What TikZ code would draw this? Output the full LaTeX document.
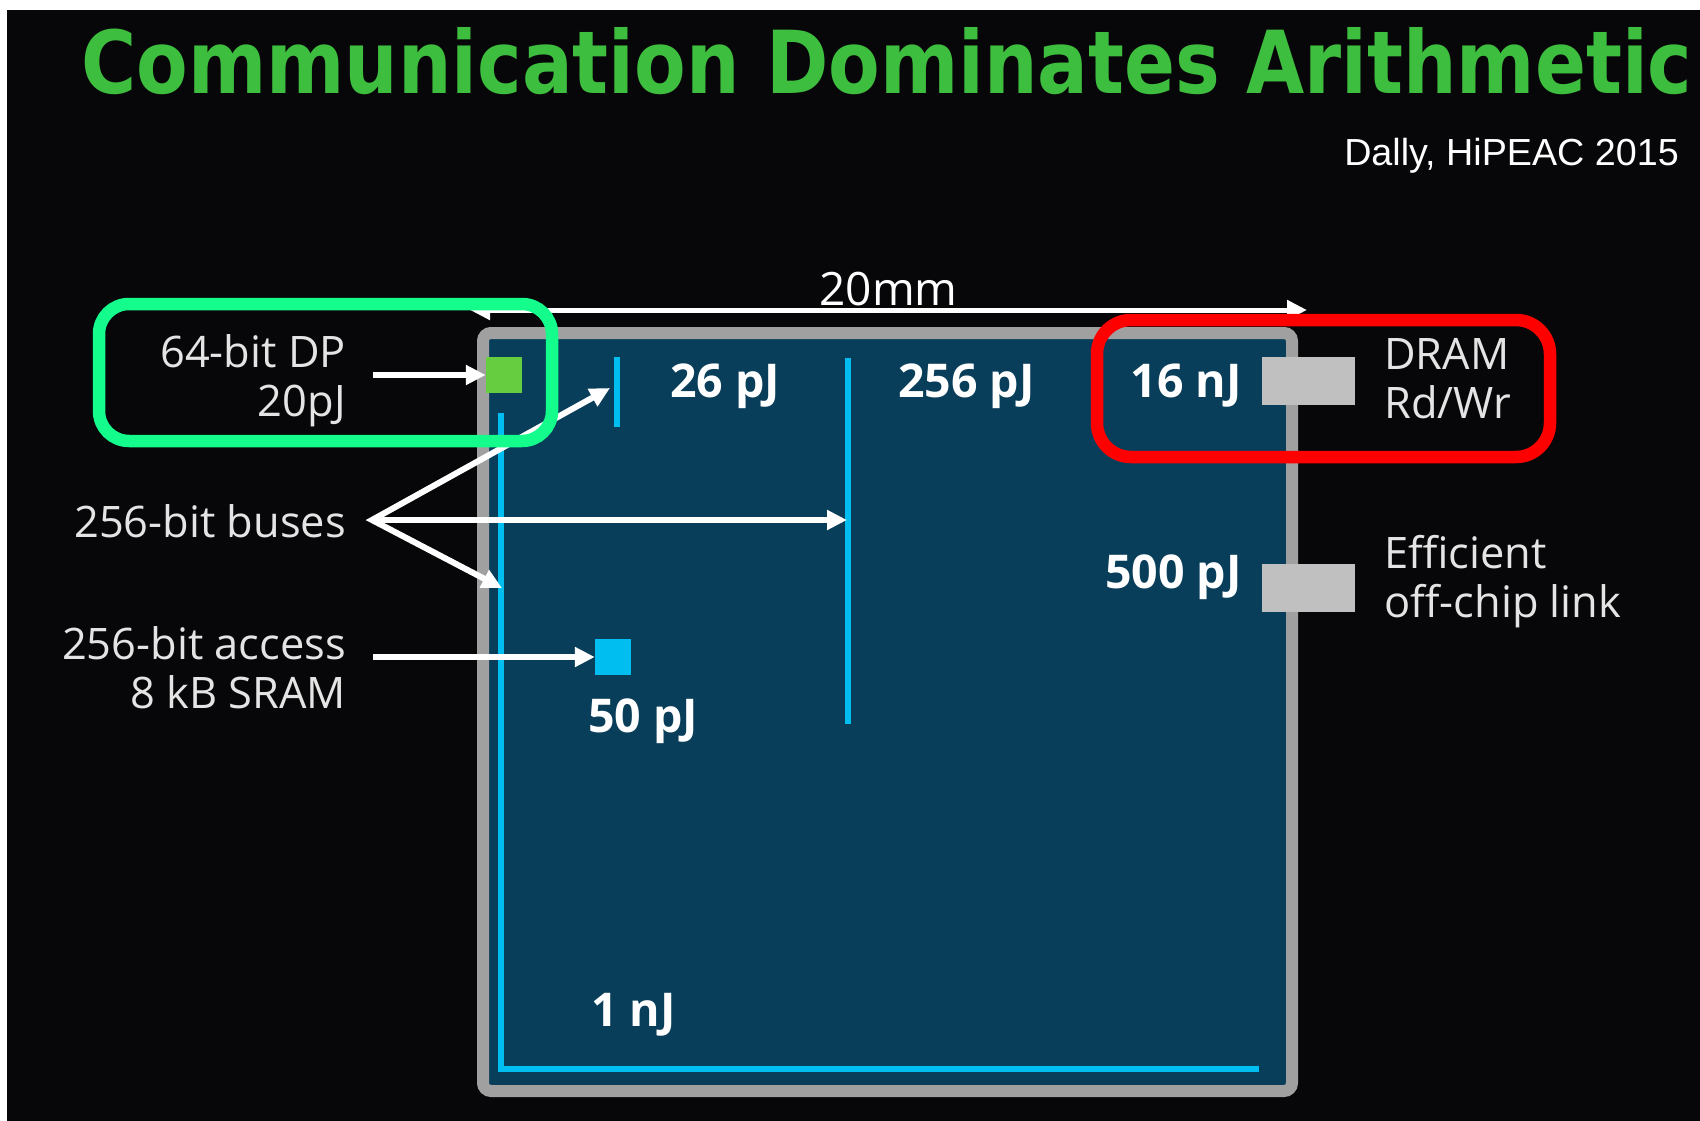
\documentclass[tikz,border=0pt]{standalone}
\usepackage{fontspec}
\setmainfont{Open Sans}
\newfontfamily\headfont{DejaVu Sans}
\newfontfamily\citefont{Liberation Sans}
\usetikzlibrary{positioning,arrows.meta}
\definecolor{slidebg}{RGB}{7,7,9}
\definecolor{die}{RGB}{9,62,90}
\definecolor{diergn}{RGB}{160,160,160}
\definecolor{cyanbus}{RGB}{0,190,240}
\definecolor{alu}{RGB}{102,204,64}
\definecolor{padgray}{RGB}{192,192,192}
\definecolor{hdgrn}{RGB}{62,190,62}
\definecolor{hlgreen}{RGB}{20,252,140}
\definecolor{txt}{RGB}{228,228,228}

\begin{document}
\begin{tikzpicture}[x=1pt,y=-1pt,>={Triangle[length=20pt,width=19pt]},
  lbl/.style={text=txt,inner sep=0pt,font=\fontsize{43.4}{49}\selectfont},
  val/.style={text=white,inner sep=0pt,font=\bfseries\fontsize{46.5}{50}\selectfont},
  arr/.style={->,white,line width=6pt},
  bus/.style={draw=cyanbus,line width=6.5pt},
  unit/.style={inner sep=0pt,minimum size=36pt},
  pad/.style={fill=padgray,inner sep=0pt,minimum width=93pt,minimum height=48pt},
  hilite/.style={draw,rounded corners=30pt,line width=12.5pt,inner sep=0pt,minimum width=453pt,minimum height=137pt}]
  \useasboundingbox (0,0) rectangle (1700,1121);
  \fill[white] (0,0) rectangle (1700,1121);
  \fill[slidebg] (7,10) rectangle (1700,1121);

  % heading
  \node[anchor=base west,inner sep=0pt,text=hdgrn] (title) at (81,94)
    {\resizebox{1611pt}{66pt}{\headfont\bfseries Communication Dominates Arithmetic}};
  \node[anchor=base east,inner sep=0pt,text=white,font=\citefont\fontsize{37.7}{40}\selectfont] (cite) at (1679,165) {Dally, HiPEAC 2015};

  % die
  \node[draw=diergn,fill=die,line width=12pt,rounded corners=8pt,inner sep=0pt,
    minimum width=809pt,minimum height=758pt] (chip) at (887.5,712) {};
  \draw[bus] (501,413) -- (501,1069) -- (1259,1069);
  \draw[bus] (617,357) -- (617,427);
  \draw[bus] (848,358) -- (848,724);

  \node[unit,fill=alu] (fpu) at (504,375) {};
  \node[unit,fill=cyanbus] (sram) at (613,657) {};
  \node[pad] (dram) at (1308.5,381) {};
  \node[pad] (link) at (1308.5,587.5) {};

  \node[val,anchor=base west] (e26) at (670,397) {26 pJ};
  \node[val,anchor=base west] (e256) at (898,397) {256 pJ};
  \node[val,anchor=base east] (e16) at (1242,397) {16 nJ};
  \node[val,anchor=base east] (e500) at (1242,588) {500 pJ};
  \node[val,anchor=base west] (e50) at (588,732) {50 pJ};
  \node[val,anchor=base west] (e1) at (591,1026) {1 nJ};

  % labels
  \node[lbl,align=right,anchor=east] (dp) at (346,381) {64-bit DP\\20pJ};
  \node[lbl,anchor=base east] (buses) at (346,537) {256-bit buses};
  \node[lbl,align=right,anchor=east] (acc) at (346,668) {256-bit access\\8 kB SRAM};
  \node[lbl,align=left,anchor=west] (dramtxt) at (1384,379) {DRAM\\Rd/Wr};
  \node[lbl,align=left,anchor=west] (linktxt) at (1384,582) {Efficient\\off-chip link};

  % arrows
  \coordinate (fork) at (372,520);
  \coordinate (tap26) at (610,388);
  \coordinate (tap256) at (847,520);
  \coordinate (tap1) at (502,588);
  \draw[arr,shorten <=27pt] (dp.east |- fpu) -- (fpu.west);
  \draw[arr,<->] (tap26) -- (fork) -- (tap1);
  \draw[arr] (fork) -- (tap256);
  \draw[arr,shorten <=27pt] (acc.east |- sram) -- (sram.west);

  \coordinate (dimL) at (470,310);
  \coordinate (dimR) at (1307,310);
  \draw[<->,white,line width=5pt] (dimL) -- node[lbl,text=white,above=2pt,font=\fontsize{46}{50}\selectfont] (dimtxt) {20mm} (dimR);

  % highlights
  \node[hilite,draw=hlgreen] (dpbox) at (325.5,372.5) {};
  \node[hilite,draw=red,rounded corners=34pt] (drambox) at (1323.5,388.5) {};
\end{tikzpicture}
\end{document}
